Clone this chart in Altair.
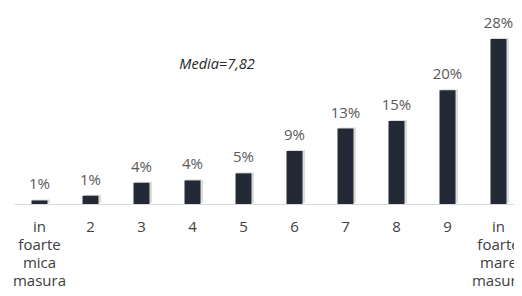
import altair as alt
import pandas as pd

categories = ["in foarte mica masura", "2", "3", "4", "5", "6", "7", "8", "9", "in foarte mare masura"]
values = [0.6, 1.4, 3.6, 4.0, 5.2, 9.0, 12.8, 14.1, 19.3, 28.0]
labels = ["1%", "1%", "4%", "4%", "5%", "9%", "13%", "15%", "20%", "28%"]
note = "Media=7,82"

df = pd.DataFrame({"cat": categories, "val": values, "lab": labels})

FONT = "Open Sans"

x = alt.X("cat:N", sort=categories, title=None,
          scale=alt.Scale(paddingInner=0.68, paddingOuter=0.34, range=[0, 510]),
          axis=alt.Axis(labelAngle=0, ticks=False, domainColor="#d9d9d9", domainWidth=1,
                        labelFont=FONT, labelFontSize=15, labelColor="#404040",
                        labelPadding=15, labelLineHeight=18, labelBound=False,
                        labelExpr="split(datum.label, ' ')"))
y = alt.Y("val:Q", axis=None, scale=alt.Scale(domain=[0, 28], nice=False))

base = alt.Chart(df)

shadow = base.mark_bar(color="#9a9a9a", opacity=0.35, xOffset=2, yOffset=-1, size=17).encode(x=x, y=y)
bars = base.mark_bar(color="#232a35", size=16).encode(x=x, y=y)
text = base.mark_text(baseline="bottom", dy=-8, font=FONT, fontSize=15, color="#595959").encode(
    x=x, y=y, text="lab:N")
ann = alt.Chart(pd.DataFrame({"t": [note]})).mark_text(
    font=FONT, fontSize=14.5, fontStyle="italic", color="#262626", align="center", baseline="middle"
).encode(x=alt.value(203), y=alt.value(26), text="t:N")

chart = alt.layer(shadow, bars, text, ann).properties(
    width=500, height=165,
    autosize=alt.AutoSizeParams(type="none"),
    padding={"left": 6, "top": 31, "right": 0, "bottom": 84},
).configure_view(stroke=None)

chart.save("out.html", embed_options={"renderer": "svg", "actions": False})
